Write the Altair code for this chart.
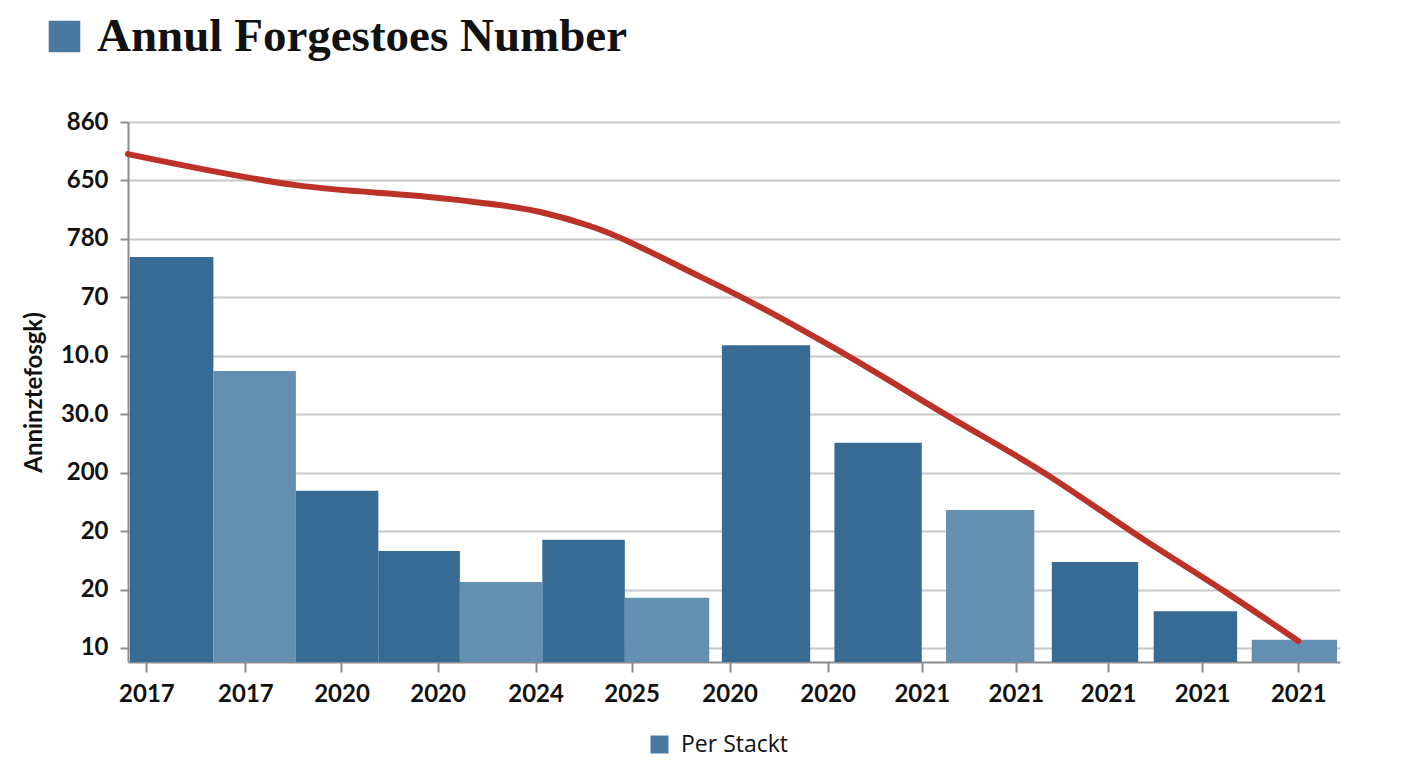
import json
import altair as alt
import pandas as pd

title_text = 'Annul Forgestoes Number'

# x axis: tick positions (slot units) and their labels
x_ticks = [0.19, 1.21, 2.20, 3.19, 4.20, 5.19, 6.20, 7.21, 8.18, 9.15, 10.10, 11.07, 12.06]
x_labels = ['2017', '2017', '2020', '2020', '2024', '2025', '2020',
            '2020', '2021', '2021', '2021', '2021', '2021']

# y axis: gridline positions and their printed labels (bottom to top)
y_ticks = [1, 2, 3, 4, 5, 6, 7, 8, 9, 10]
y_labels = ['10', '20', '20', '200', '30.0', '10.0', '70', '780', '650', '860']
y_floor = 0.76

# bars
bar_start = [0.02, 0.88, 1.73, 2.58, 3.42, 4.27, 5.12, 6.12, 7.28, 8.43, 9.52, 10.57, 11.58]
bar_end = [0.88, 1.73, 2.58, 3.42, 4.27, 5.12, 5.99, 7.03, 8.18, 9.34, 10.41, 11.43, 12.46]
bar_value = [7.69, 5.74, 3.69, 2.66, 2.13, 2.85, 1.86, 6.18, 4.51, 3.36, 2.47, 1.63, 1.14]
bar_shade = ['dark', 'light', 'dark', 'dark', 'light', 'dark', 'light',
             'dark', 'dark', 'light', 'dark', 'dark', 'light']

# red trend line
line_x = [0.0, 1.73, 3.32, 4.25, 4.76, 5.90, 6.36, 7.28, 8.47, 9.39, 10.49, 11.28, 12.06]
line_y = [9.45, 8.92, 8.68, 8.46, 8.22, 7.35, 6.97, 6.13, 4.95, 4.05, 2.83, 1.99, 1.12]

bars_df = pd.DataFrame({'start': bar_start, 'end': bar_end,
                        'value': bar_value, 'shade': bar_shade})
line_df = pd.DataFrame({'x': line_x, 'y': line_y})

x_scale = alt.Scale(domain=[0, 12.49], nice=False, zero=False)
y_scale = alt.Scale(domain=[y_floor, 10], nice=False, zero=False)

x_expr = json.dumps(x_labels) + '[floor(datum.value)]'
y_expr = json.dumps([''] + y_labels) + '[round(datum.value)]'

x_axis = alt.Axis(values=x_ticks, labelExpr=x_expr, grid=False, title=None,
                  tickSize=10, labelPadding=10)
y_axis = alt.Axis(values=y_ticks, labelExpr=y_expr, grid=True, title='Anninztefosgk)',
                  tickSize=8, labelPadding=12, titlePadding=14)

bars = alt.Chart(bars_df).mark_bar().encode(
    x=alt.X('start:Q', scale=x_scale, axis=x_axis),
    x2='end:Q',
    y=alt.Y('value:Q', scale=y_scale, axis=y_axis),
    y2=alt.datum(y_floor),
    color=alt.Color('shade:N',
                    scale=alt.Scale(domain=['dark', 'light'], range=['#386b93', '#6390b0']),
                    legend=None)
)

line = alt.Chart(line_df).mark_line(color='#bc3229', strokeWidth=6,
                                    interpolate='monotone', strokeCap='round').encode(
    x=alt.X('x:Q', scale=x_scale),
    y=alt.Y('y:Q', scale=y_scale)
)

# legend "Per Stackt"
legend_df = pd.DataFrame({'series': ['Per Stackt']})
legend_layer = alt.Chart(legend_df).mark_square(opacity=0).encode(
    fill=alt.Fill('series:N', scale=alt.Scale(range=['#4a7aa1']),
                  legend=alt.Legend(orient='none', legendX=520, legendY=611, title=None,
                                    symbolSize=324, symbolOpacity=1, labelFontSize=23,
                                    labelFont='Open Sans', labelColor='#111',
                                    labelOffset=10, padding=0))
)

# heading: blue square followed by the title text
badge_df = pd.DataFrame({'badge': [title_text]})
badge_layer = alt.Chart(badge_df).mark_square(opacity=0).encode(
    fill=alt.Fill('badge:N', scale=alt.Scale(range=['#4a7aa1']),
                  legend=alt.Legend(orient='none', legendX=-87, legendY=-109, title=None,
                                    symbolSize=1000, symbolOpacity=1, labelOffset=9,
                                    labelFont='Liberation Serif', labelFontSize=47,
                                    labelFontWeight='bold', labelColor='#111',
                                    labelLimit=900, padding=0))
)

chart = alt.layer(bars, line, legend_layer, badge_layer).resolve_scale(
    fill='independent'
).properties(
    width=1212,
    height=540,
    autosize=alt.AutoSizeParams(type='none'),
    padding={'left': 120, 'top': 114, 'right': 60, 'bottom': 100}
).configure_view(
    stroke=None
).configure_axis(
    labelFont='Lato', labelFontSize=24, labelFontWeight='bold', labelColor='#111',
    titleFont='Lato', titleFontSize=24, titleFontWeight='bold', titleColor='#111',
    domainColor='#8c8c8c', domainWidth=2, tickColor='#8c8c8c', tickWidth=2,
    gridColor='#c8c8c8', gridWidth=2
)

chart.save('out.html', embed_options={'renderer': 'svg', 'actions': False})
